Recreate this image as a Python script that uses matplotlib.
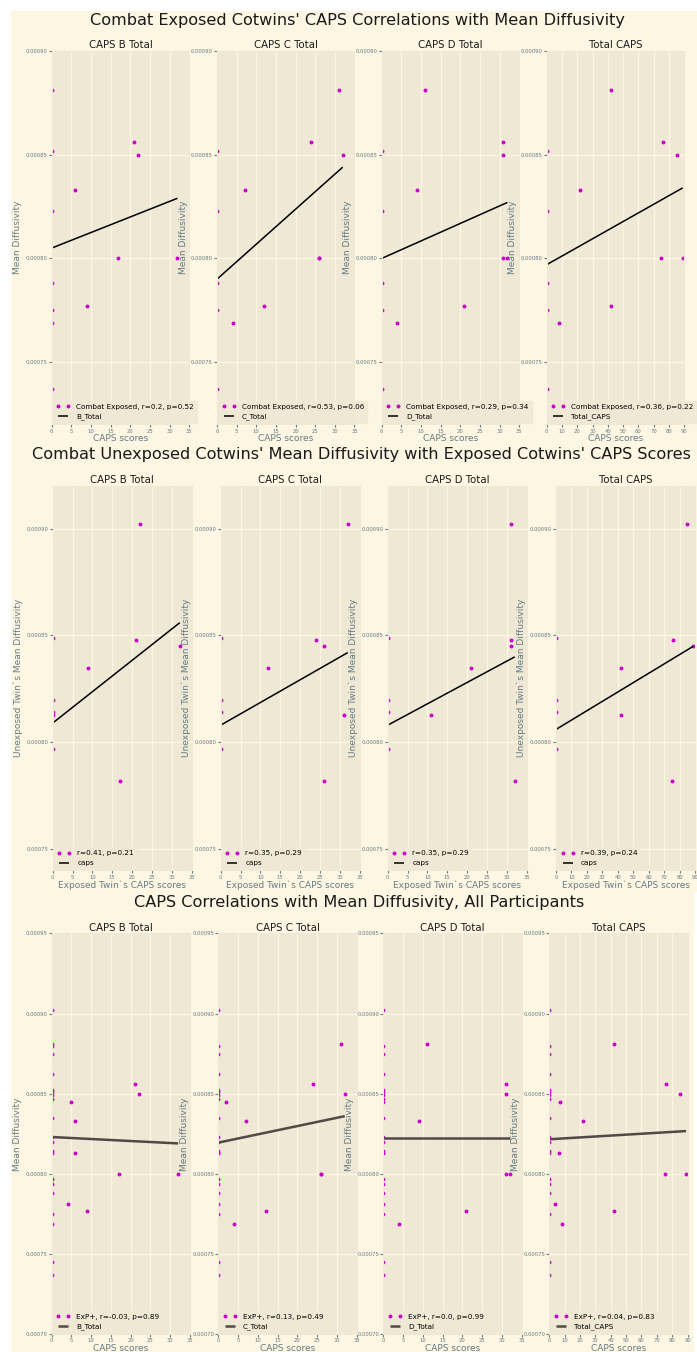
import matplotlib
matplotlib.use('Agg')
import matplotlib.pyplot as plt
from matplotlib.patches import Rectangle
from matplotlib.ticker import FormatStrFormatter, MultipleLocator

# exposed twins: CAPS subscale scores and mean diffusivity
exp_md = [0.000881, 0.000852, 0.000823, 0.000788, 0.000775, 0.000769, 0.000737,
          0.000833, 0.000777, 0.000800, 0.000856, 0.000850, 0.000800]
exp_b = [0, 0, 0, 0, 0, 0, 0, 6, 9, 17, 21, 22, 32]
exp_c = [31, 0, 0, 0, 0, 4, 0, 7, 12, 26, 24, 32, 26]
exp_d = [11, 0, 0, 0, 0, 4, 0, 9, 21, 32, 31, 31, 31]
exp_t = [42, 0, 0, 0, 0, 8, 0, 22, 42, 75, 76, 85, 89]

# unexposed twins' MD against their exposed cotwin's CAPS
pair_b = [0, 0, 0, 0, 0, 9, 17, 21, 22, 32]
pair_c = [31, 0, 0, 0, 0, 12, 26, 24, 32, 26]
pair_d = [11, 0, 0, 0, 0, 21, 32, 31, 31, 31]
pair_t = [42, 0, 0, 0, 0, 42, 75, 76, 85, 89]
unexp_md = [0.000813, 0.000849, 0.000820, 0.000814, 0.000797,
            0.000835, 0.000782, 0.000848, 0.000902, 0.000845]

# all participants
all_md = [0.000881, 0.000852, 0.000823, 0.000788, 0.000775, 0.000769, 0.000737,
          0.000833, 0.000777, 0.000800, 0.000856, 0.000850, 0.000800,
          0.000902, 0.000849, 0.000847, 0.000845, 0.000835, 0.000820, 0.000814,
          0.000813, 0.000797, 0.000781,
          0.000880, 0.000875, 0.000862, 0.000851, 0.000813, 0.000794, 0.000745]
all_b = [0, 0, 0, 0, 0, 0, 0, 6, 9, 17, 21, 22, 32,
         0, 0, 0, 5, 0, 0, 0, 0, 0, 4,
         0, 0, 0, 0, 6, 0, 0]
all_c = [31, 0, 0, 0, 0, 4, 0, 7, 12, 26, 24, 32, 26,
         0, 0, 0, 2, 0, 0, 0, 0, 0, 0,
         0, 0, 0, 0, 0, 0, 0]
all_d = [11, 0, 0, 0, 0, 4, 0, 9, 21, 32, 31, 31, 31,
         0, 0, 0, 0, 0, 0, 0, 0, 0, 0,
         0, 0, 0, 0, 0, 0, 0]
all_t = [42, 0, 0, 0, 0, 8, 0, 22, 42, 75, 76, 85, 89,
         0, 0, 0, 7, 0, 0, 0, 0, 0, 4,
         0, 0, 0, 0, 6, 0, 0]

panel_titles = ['CAPS B Total', 'CAPS C Total', 'CAPS D Total', 'Total CAPS']
line_names = ['B_Total', 'C_Total', 'D_Total', 'Total_CAPS']

r1 = ['0.2', '0.53', '0.29', '0.36']
p1 = ['0.52', '0.06', '0.34', '0.22']
r2 = ['0.41', '0.35', '0.35', '0.39']
p2 = ['0.21', '0.29', '0.29', '0.24']
r3 = ['-0.03', '0.13', '0.0', '0.04']
p3 = ['0.89', '0.49', '0.99', '0.83']

# regression line ends (MD at min and max score)
fit1 = [(0.000805, 0.000829), (0.000790, 0.000844), (0.000800, 0.000827), (0.000797, 0.000834)]
fit2 = [(0.000809, 0.000856), (0.000808, 0.000842), (0.000808, 0.000840), (0.000806, 0.000845)]
fit3 = [(0.000823, 0.000819), (0.0008195, 0.000836), (0.0008226, 0.0008226), (0.0008216, 0.0008267)]

plt.style.use('Solarize_Light2')
W, H = 697, 1352
fig = plt.figure(figsize=(W / 100, H / 100), dpi=100)
fig.patch.set_facecolor('white')
fig.add_artist(Rectangle((11 / W, 1 - 892 / H), (W - 11) / W, 881 / H,
                         transform=fig.transFigure, facecolor='#FDF6E3',
                         edgecolor='none', zorder=-10))
fig.add_artist(Rectangle((11 / W, 0), (694 - 11) / W, (H - 892) / H,
                         transform=fig.transFigure, facecolor='#FDF6E3',
                         edgecolor='none', zorder=-10))


def box(left, top, w, h):
    return [left / W, 1 - (top + h) / H, w / W, h / H]


rows = [
    dict(title="Combat Exposed Cotwins' CAPS Correlations with Mean Diffusivity",
         ty=20.5, tx=357, top=51, bottom=424.4, width=137.5,
         lefts=[51.7, 217, 381.7, 546.7], ylim=(0.00072, 0.00090),
         xs=[exp_b, exp_c, exp_d, exp_t], y=exp_md, fits=fit1,
         labels=['Combat Exposed, r=%s, p=%s' % (r, p) for r, p in zip(r1, p1)],
         lines=line_names, xlabel='CAPS scores', ylabel='Mean Diffusivity',
         lc='k', lw=1.1),
    dict(title="Combat Unexposed Cotwins' Mean Diffusivity with Exposed Cotwins' CAPS Scores",
         ty=455, tx=361, top=486, bottom=870.4, width=139,
         lefts=[52.7, 220.7, 387.7, 556], ylim=(0.00074, 0.00092),
         xs=[pair_b, pair_c, pair_d, pair_t], y=unexp_md, fits=fit2,
         labels=['r=%s, p=%s' % (r, p) for r, p in zip(r2, p2)],
         lines=['caps'] * 4, xlabel='Exposed Twin`s CAPS scores',
         ylabel='Unexposed Twin`s Mean Diffusivity', lc='k', lw=1.1),
    dict(title="CAPS Correlations with Mean Diffusivity, All Participants",
         ty=902, tx=359, top=933.3, bottom=1334.3, width=138.3,
         lefts=[51.7, 218.3, 383.3, 549.3], ylim=(0.00070, 0.00095),
         xs=[all_b, all_c, all_d, all_t], y=all_md, fits=fit3,
         labels=['ExP+, r=%s, p=%s' % (r, p) for r, p in zip(r3, p3)],
         lines=line_names, xlabel='CAPS scores', ylabel='Mean Diffusivity',
         lc='#4f4a45', lw=1.8),
]

for row in rows:
    fig.text(row['tx'] / W, 1 - row['ty'] / H, row['title'], ha='center',
             va='center', fontsize=11.6, color='#1a1a1a')
    h = row['bottom'] - row['top']
    for i in range(4):
        ax = fig.add_axes(box(row['lefts'][i], row['top'], row['width'], h))
        x = row['xs'][i]
        ax.plot(x, row['y'], '.', color='#cc00cc', ms=3.6, label=row['labels'][i])
        y0, y1 = row['fits'][i]
        ax.plot([min(x), max(x)], [y0, y1], '-', color=row['lc'], lw=row['lw'],
                label=row['lines'][i])
        xmax = 90 if i == 3 else 35
        ax.set_xlim(0, xmax)
        ax.set_ylim(*row['ylim'])
        ax.xaxis.set_major_locator(MultipleLocator(10 if i == 3 else 5))
        ax.yaxis.set_major_locator(MultipleLocator(0.00005))
        ax.yaxis.set_major_formatter(FormatStrFormatter('%.5f'))
        ax.tick_params(labelsize=3.8, length=2, pad=1)
        ax.set_title(panel_titles[i], fontsize=7.3, pad=2, color='#1a1a1a')
        ax.set_xlabel(row['xlabel'], fontsize=6.5, labelpad=0.5)
        ax.set_ylabel(row['ylabel'], fontsize=6.5)
        ax.yaxis.set_label_coords(-29.5 / row['width'], 0.5)
        leg = ax.legend(loc='lower left', fontsize=5.2, numpoints=2,
                        borderaxespad=0.2, handlelength=2)
        leg.get_frame().set_edgecolor('#EEE8D5')

fig.savefig('out.png', dpi=100, facecolor=fig.get_facecolor())
